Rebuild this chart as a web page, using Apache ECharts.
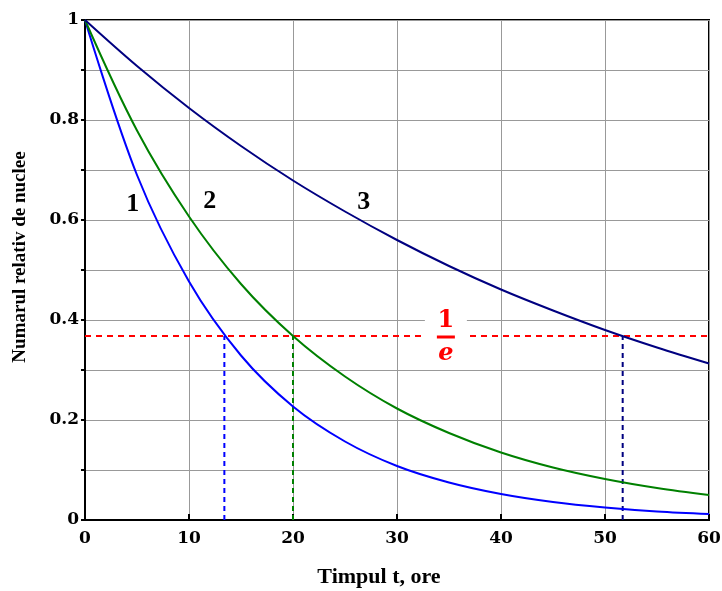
<!DOCTYPE html>
<html>
<head>
	<meta charset="utf-8"/>
	<title>Dezintegrare</title>
	<style>
		* { margin: 0; padding: 0; }
		body { background: #fff; }
	</style>
</head>
<body>
	<div id="myChart" style="width: 722px;height: 591px;"></div>

	<script src="https://cdn.jsdelivr.net/npm/echarts@6/dist/echarts.min.js"></script>
	<script>
		// timpul t, ore
		var times = [0, 5, 10, 15, 20, 25, 30, 35, 40, 45, 50, 55, 60];
		// valori
		var curve1 = [1, 0.690, 0.477, 0.329, 0.227, 0.157, 0.108, 0.075, 0.052, 0.036, 0.025, 0.017, 0.012];
		var curve2 = [1, 0.779, 0.607, 0.472, 0.368, 0.287, 0.223, 0.174, 0.135, 0.105, 0.082, 0.064, 0.050];
		var curve3 = [1, 0.908, 0.824, 0.748, 0.679, 0.617, 0.560, 0.508, 0.461, 0.419, 0.380, 0.345, 0.313];
		var levelE = 0.368;                  // 1/e
		var crossT = [13.4, 20, 51.7];       // unde curbele taie 1/e
		var curveNames = ['1', '2', '3'];
		var namePos = [[4.6, 0.632], [12.0, 0.638], [26.8, 0.636]];
		var colors = ['#0000ff', '#008000', '#000080'];

		function pairs(ys) {
			return times.map(function (t, i) { return [t, ys[i]]; });
		}

		var font = '"Liberation Serif", "Times New Roman", serif';
		var tickFont = '"DejaVu Serif", serif';
		var myChart = echarts.init(document.getElementById('myChart'));

		var series = [];
		[curve1, curve2, curve3].forEach(function (c, i) {
			series.push({
				type: 'line',
				data: pairs(c),
				smooth: 0.35,
				symbol: 'none',
				lineStyle: { color: colors[i], width: 2 },
				z: 5
			});
		});
		// linia 1/e
		series.push({
			type: 'line',
			data: [[0, levelE], [60, levelE]],
			symbol: 'none',
			lineStyle: { color: '#ff0000', width: 2, type: [6, 5] },
			z: 3
		});
		// verticalele
		crossT.forEach(function (t, i) {
			series.push({
				type: 'line',
				data: [[t, 0], [t, levelE]],
				symbol: 'none',
				lineStyle: { color: colors[i], width: 2, type: [5, 4] },
				z: 3
			});
		});
		// etichetele 1, 2, 3
		series.push({
			type: 'scatter',
			symbolSize: 0,
			itemStyle: { opacity: 1 },
			data: curveNames.map(function (n, i) { return { name: n, value: namePos[i] }; }),
			label: {
				show: true,
				position: 'inside',
				formatter: '{b}',
				color: '#000',
				fontFamily: font,
				fontWeight: 'bold',
				fontSize: 26
			},
			z: 6
		});
		// eticheta 1/e
		series.push({
			type: 'scatter',
			symbolSize: 0,
			itemStyle: { opacity: 1 },
			data: [[34.7, levelE]],
			label: {
				show: true,
				position: 'inside',
				formatter: '{n|1}\n{b|}\n{d|e}',
				backgroundColor: '#fff',
				padding: [3, 12, 1, 12],
				rich: {
					n: { color: '#ff0000', fontFamily: tickFont, fontWeight: 'bold', fontSize: 24, lineHeight: 27, align: 'center' },
					b: { backgroundColor: '#ff0000', width: 18, height: 3, lineHeight: 6, align: 'center' },
					d: { color: '#ff0000', fontFamily: tickFont, fontWeight: 'bold', fontStyle: 'italic', fontSize: 24, lineHeight: 27, align: 'center' }
				}
			},
			z: 4
		});

		var option = {
			animation: false,
			grid: {
				left: 85, right: 13, top: 20, bottom: 71,
				outerBoundsMode: 'none',
				show: true, borderColor: '#000', borderWidth: 2
			},
			xAxis: {
				type: 'value',
				min: 0, max: 60, interval: 10,
				name: 'Timpul t, ore',
				nameLocation: 'middle',
				nameGap: 46,
				nameTextStyle: { color: '#000', fontFamily: font, fontWeight: 'bold', fontSize: 22, padding: [0, 36, 0, 0] },
				axisLine: { lineStyle: { color: '#000', width: 2 } },
				axisTick: { inside: true, length: 6, lineStyle: { color: '#000', width: 2 } },
				axisLabel: { color: '#000', fontFamily: tickFont, fontWeight: 'bold', fontSize: 17, margin: 10 },
				splitLine: { lineStyle: { color: '#999', width: 1 } }
			},
			yAxis: {
				type: 'value',
				min: 0, max: 1, interval: 0.1,
				name: 'Numarul relativ de nuclee',
				nameLocation: 'middle',
				nameGap: 55,
				nameTextStyle: { color: '#000', fontFamily: font, fontWeight: 'bold', fontSize: 19, padding: [0, 0, 0, 26] },
				axisLine: { lineStyle: { color: '#000', width: 2 } },
				axisTick: { length: 4, lineStyle: { color: '#000', width: 2 } },
				axisLabel: {
					color: '#000', fontFamily: tickFont, fontWeight: 'bold', fontSize: 17, margin: 6,
					formatter: function (v) {
						var k = Math.round(v * 10);
						if (k % 2) return '';
						return k === 0 ? '0' : (k === 10 ? '1' : (k / 10).toFixed(1));
					}
				},
				splitLine: { lineStyle: { color: '#999', width: 1 } }
			},
			series: series
		};

		myChart.setOption(option);
	</script>
</body>
</html>
